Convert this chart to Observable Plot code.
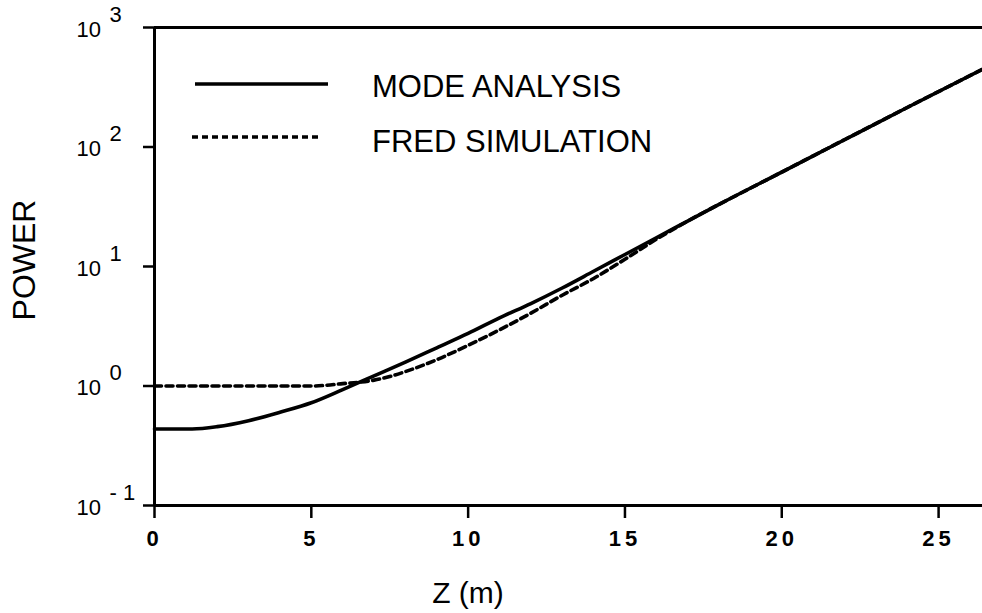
<!DOCTYPE html>
<html><head><meta charset="utf-8">
<script src="https://cdn.jsdelivr.net/npm/d3@7"></script>
<script src="https://cdn.jsdelivr.net/npm/@observablehq/plot@0.6"></script>
<style>
html,body{margin:0;padding:0;background:#fff;}
#chart{position:relative;width:982px;height:613px;overflow:hidden;}
#chart svg g[aria-label="x-axis tick label"]{font-size:22px;font-weight:bold;}
#chart svg g[aria-label="x-axis tick label"] text{letter-spacing:4px;}
#chart svg g[aria-label="text"]{font-size:22px;}
</style></head><body><div id="chart"></div>
<script>
// Data
const modeZ     = [0, 1.2, 2, 3, 4, 5, 6, 7, 8, 9, 10, 11, 12, 13, 14, 15, 16, 17, 18, 20, 22, 24, 26.4];
const modePower = [0.437, 0.437, 0.457, 0.513, 0.603, 0.724, 0.933, 1.216, 1.585, 2.089, 2.754, 3.72, 4.90, 6.61, 9.12, 12.6, 17.4, 24.0, 33.1, 61.7, 115, 214, 447];
const fredZ     = [0, 5, 5.5, 6, 6.5, 7, 7.5, 8, 9, 10, 11, 12, 13, 14, 15, 16, 17, 18, 20, 22, 24, 26.4];
const fredPower = [1.0, 1.0, 1.015, 1.047, 1.072, 1.12, 1.2, 1.32, 1.66, 2.19, 2.95, 4.07, 5.75, 7.94, 11.5, 16.9, 24.0, 33.1, 61.7, 115, 214, 447];
const xTicks = [0, 5, 10, 15, 20, 25];
const yTicks = [0.1, 1, 10, 100, 1000];
const yTickBase = ["10", "10", "10", "10", "10"];
const yTickExp = ["- 1", "0", "1", "2", "3"];
const legendLabels = ["MODE ANALYSIS", "FRED SIMULATION"];
const xLabel = "Z (m)";
const yLabel = "POWER";

const mode = modeZ.map((z, i) => ({z, p: modePower[i]}));
const fred = fredZ.map((z, i) => ({z, p: fredPower[i]}));
const font = "'Liberation Sans', Arial, Helvetica, sans-serif";

const plot = Plot.plot({
  width: 982, height: 613,
  marginLeft: 154, marginRight: 0, marginTop: 27, marginBottom: 108,
  style: {fontFamily: font, background: "#fff", color: "#000", overflow: "visible"},
  x: {domain: [0, 26.4], axis: null},
  y: {type: "log", domain: [0.1, 1000], axis: null},
  marks: [
    Plot.ruleY([1000, 0.1], {stroke: "#000", strokeWidth: 3}),
    Plot.ruleX([0], {stroke: "#000", strokeWidth: 3}),
    Plot.axisY(yTicks, {tickSize: 11, tickFormat: () => "", strokeWidth: 2.5, label: null}),
    Plot.axisX(xTicks, {tickSize: 13, tickPadding: 12, fontSize: 22, fontWeight: "bold", strokeWidth: 2.5, label: null, tickFormat: d => String(d)}),
    Plot.text(yTicks, {y: d => d, text: (d, i) => yTickBase[i], frameAnchor: "left", textAnchor: "start", dx: -78, dy: 2, fontSize: 22}),
    Plot.text(yTicks, {y: d => d, text: (d, i) => yTickExp[i], frameAnchor: "left", textAnchor: "start", dx: -45, dy: -13, fontSize: 22}),
    Plot.line(mode, {x: "z", y: "p", stroke: "#000", strokeWidth: 3.6, curve: "monotone-x"}),
    Plot.line(fred, {x: "z", y: "p", stroke: "#000", strokeWidth: 3.6, strokeDasharray: "7,4.5", curve: "monotone-x"})
  ]
});
document.getElementById("chart").appendChild(plot);

const svg = d3.select(plot);
const g = svg.append("g").attr("font-family", font).attr("fill", "#000").attr("text-anchor", "start");
g.append("line").attr("x1", 195).attr("x2", 328).attr("y1", 84).attr("y2", 84).attr("stroke", "#000").attr("stroke-width", 3.5);
g.append("line").attr("x1", 192).attr("x2", 320).attr("y1", 137).attr("y2", 137).attr("stroke", "#000").attr("stroke-width", 3.5).attr("stroke-dasharray", "6,4");
g.append("text").attr("x", 372).attr("y", 97).attr("font-size", 31).attr("text-anchor", "start").text(legendLabels[0]);
g.append("text").attr("x", 372).attr("y", 152).attr("font-size", 31).attr("text-anchor", "start").text(legendLabels[1]);
g.append("text").attr("x", 468).attr("y", 603).attr("font-size", 30).attr("text-anchor", "middle").text(xLabel);
g.append("text").attr("transform", "translate(35,260) rotate(-90)").attr("font-size", 32).attr("text-anchor", "middle").text(yLabel);
</script>
</body></html>
